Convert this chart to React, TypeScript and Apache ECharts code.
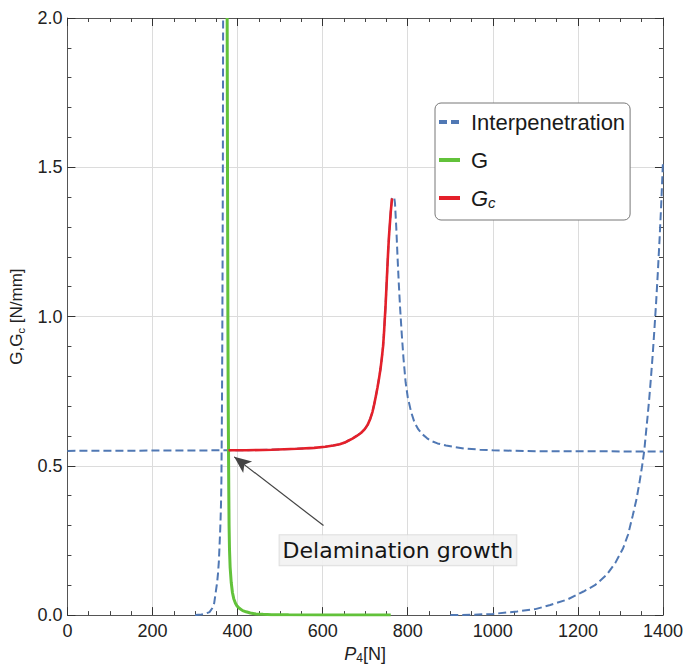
import React, { useEffect, useRef } from 'react';
import * as echarts from 'echarts';

// G_c (critical energy release rate)
const gcX = [378.7, 420, 480, 540, 580, 606, 625, 640, 652, 660, 670, 680, 690, 699, 706, 712, 717, 721, 725, 729, 733, 736, 739, 742, 744, 746, 748, 750, 752, 754, 756, 758, 760, 763];
const gcY = [0.552, 0.552, 0.554, 0.557, 0.56, 0.564, 0.568, 0.572, 0.578, 0.584, 0.591, 0.6, 0.61, 0.623, 0.638, 0.658, 0.68, 0.705, 0.733, 0.763, 0.797, 0.825, 0.86, 0.9, 0.94, 0.99, 1.04, 1.1, 1.16, 1.22, 1.27, 1.31, 1.35, 1.396];
// G
const gX = [375.5, 376.3, 377.2, 378, 378.7, 379.3, 380, 381, 382.5, 385, 388, 391, 395, 399, 404, 412, 420, 430, 443, 460, 480, 520, 600, 760];
const gY = [2.0, 1.5, 1.0, 0.7, 0.55, 0.42, 0.3, 0.22, 0.16, 0.11, 0.075, 0.055, 0.04, 0.03, 0.023, 0.015, 0.011, 0.007, 0.004, 0.0025, 0.0015, 0.0008, 0.0003, 0.0];
// Interpenetration: flat part at ~0.55 left of the G/G_c intersection (the rising flank runs under G_c)
const interpBaseX = [0];
const interpBaseY = [0.55];
// Interpenetration: right flank of the peak and tail back to ~0.55
const interpPeakX = [768, 770, 773, 776, 779, 782, 786, 790, 795, 800, 808, 816, 825, 835, 845, 854, 870, 890, 910, 933, 970, 1000, 1100, 1400];
const interpPeakY = [1.4, 1.38, 1.3, 1.2, 1.11, 1.03, 0.94, 0.86, 0.78, 0.73, 0.68, 0.645, 0.622, 0.605, 0.593, 0.584, 0.575, 0.568, 0.563, 0.558, 0.554, 0.552, 0.549, 0.548];
// Interpenetration: left asymptote near 366 N
const interpLeftX = [300, 315, 325, 334, 340, 345, 349, 352, 354, 356, 357.5, 359, 360, 361, 362, 362.5, 363.3, 364, 364.8, 365.4, 366];
const interpLeftY = [0, 0.002, 0.005, 0.01, 0.022, 0.04, 0.08, 0.11, 0.14, 0.18, 0.23, 0.28, 0.32, 0.37, 0.45, 0.55, 0.7, 0.9, 1.2, 1.5, 2.0];
// Interpenetration: rising branch towards 1400 N
const interpRightX = [900, 950, 1000, 1057, 1100, 1135, 1175, 1213, 1240, 1267, 1288, 1306, 1318, 1329, 1338, 1345, 1351, 1356, 1360, 1364, 1368, 1372, 1376, 1380, 1384, 1388, 1392, 1396, 1400];
const interpRightY = [0, 0.001, 0.004, 0.012, 0.02, 0.034, 0.052, 0.079, 0.1, 0.134, 0.175, 0.223, 0.27, 0.334, 0.39, 0.446, 0.5, 0.551, 0.61, 0.668, 0.73, 0.8, 0.875, 0.96, 1.05, 1.15, 1.26, 1.38, 1.52];

// Annotation anchors (data coordinates)
const arrowTail = [602, 0.3];
const arrowTip = [392, 0.53];
const labelAt = [777, 0.217];
const annotationText = 'Delamination growth';

const legendNames = ['Interpenetration', 'G', 'G_c'];

const zip = (xs: number[], ys: number[]) => xs.map((x, i) => [x, ys[i]]);

const BLUE = '#5078b4';
const GREEN = '#62c23a';
const RED = '#e4202a';
const FONT = 'Liberation Sans, Arial, sans-serif';

export default function App() {
  const ref = useRef<HTMLDivElement>(null);
  useEffect(() => {
    if (!ref.current) return;
    const chart = echarts.init(ref.current, undefined, { renderer: 'svg' });
    const dashed = { color: BLUE, width: 2, type: [8, 4] as number[] };
    const axisCommon = {
      axisLine: { show: true, onZero: false, lineStyle: { color: '#555', width: 1 } },
      axisTick: { show: true, inside: true, length: 8, lineStyle: { color: '#333', width: 1 } },
      minorTick: { show: true, length: 4, lineStyle: { color: '#444', width: 1 } },
    };
    const interpMain = [
      ...zip(interpBaseX, interpBaseY),
      ...zip(gcX, gcY),
      ...zip(interpPeakX, interpPeakY),
    ];
    chart.setOption({
      animation: false,
      backgroundColor: '#fff',
      grid: { left: 67, right: 19, top: 18, bottom: 52 },
      legend: {
        data: legendNames,
        orient: 'vertical',
        left: 435,
        top: 103,
        padding: [8, 5, 10, 2],
        itemGap: 16,
        itemWidth: 21,
        itemHeight: 14,
        borderColor: '#777',
        borderWidth: 1,
        borderRadius: 6,
        backgroundColor: '#fff',
        lineStyle: { width: 4 },
        itemStyle: { opacity: 0, color: 'transparent', borderWidth: 0 },
        formatter: (name: string) => (name === 'G_c' ? '{p|}{i|G}{s|c}' : '{p|}{n|' + name + '}'),
        textStyle: {
          rich: {
            p: { width: 6 },
            n: { fontSize: 22, fontFamily: FONT, color: '#1a1a1a', lineHeight: 24 },
            i: { fontSize: 22, fontFamily: FONT, fontStyle: 'italic', color: '#1a1a1a', lineHeight: 24 },
            s: { fontSize: 15, fontFamily: FONT, fontStyle: 'italic', color: '#1a1a1a', lineHeight: 15, verticalAlign: 'bottom' },
          },
        },
      },
      xAxis: [
        {
          type: 'value', min: 0, max: 1400, interval: 200, position: 'bottom',
          ...axisCommon,
          minorTick: { ...axisCommon.minorTick, splitNumber: 4 },
          splitLine: { show: true, lineStyle: { color: '#dcdcdc', width: 1 } },
          axisLabel: { fontSize: 18, fontFamily: FONT, color: '#222', margin: 7, formatter: (v: number) => String(v) },
          name: '{i|P}{s|4}{n|[N]}',
          nameLocation: 'middle',
          nameGap: 16,
          nameTextStyle: {
            verticalAlign: 'top',
            rich: {
              n: { fontSize: 18, fontFamily: FONT, color: '#222', lineHeight: 20 },
              i: { fontSize: 18, fontFamily: FONT, fontStyle: 'italic', color: '#222', lineHeight: 20 },
              s: { fontSize: 12, fontFamily: FONT, color: '#222', lineHeight: 12, verticalAlign: 'bottom' },
            },
          },
        },
        {
          type: 'value', min: 0, max: 1400, interval: 200, position: 'top',
          ...axisCommon,
          minorTick: { ...axisCommon.minorTick, splitNumber: 4 },
          splitLine: { show: false },
          axisLabel: { show: false },
        },
      ],
      yAxis: [
        {
          type: 'value', min: 0, max: 2, interval: 0.5, position: 'left',
          ...axisCommon,
          minorTick: { ...axisCommon.minorTick, splitNumber: 5 },
          splitLine: { show: true, lineStyle: { color: '#dcdcdc', width: 1 } },
          axisLabel: { fontSize: 18, fontFamily: FONT, color: '#222', margin: 5, formatter: (v: number) => v.toFixed(1) },
          name: '{n|G,G}{s|c}{n| [N/mm]}',
          nameLocation: 'middle',
          nameRotate: 90,
          nameGap: 38,
          nameTextStyle: {
            rich: {
              n: { fontSize: 17, fontFamily: FONT, color: '#222', lineHeight: 20 },
              s: { fontSize: 11, fontFamily: FONT, color: '#222', lineHeight: 11, verticalAlign: 'bottom' },
            },
          },
        },
        {
          type: 'value', min: 0, max: 2, interval: 0.5, position: 'right',
          ...axisCommon,
          minorTick: { ...axisCommon.minorTick, splitNumber: 5 },
          splitLine: { show: false },
          axisLabel: { show: false },
        },
      ],
      series: [
        { name: 'Interpenetration', type: 'line', data: interpMain, symbol: 'none', lineStyle: dashed, itemStyle: { color: BLUE }, z: 2 },
        { name: 'Interpenetration', type: 'line', data: zip(interpLeftX, interpLeftY), symbol: 'none', lineStyle: dashed, itemStyle: { color: BLUE }, z: 2 },
        { name: 'Interpenetration', type: 'line', data: zip(interpRightX, interpRightY), symbol: 'none', lineStyle: dashed, itemStyle: { color: BLUE }, z: 2 },
        { name: 'G', type: 'line', data: zip(gX, gY), symbol: 'none', lineStyle: { color: GREEN, width: 3 }, itemStyle: { color: GREEN }, z: 3 },
        {
          name: 'G_c', type: 'line', data: zip(gcX, gcY), symbol: 'none', lineStyle: { color: RED, width: 2.6 }, itemStyle: { color: RED }, z: 4,
          markLine: {
            silent: true,
            symbol: ['none', 'arrow'],
            symbolSize: [11, 17],
            label: { show: false },
            lineStyle: { color: '#444', width: 1.2, type: 'solid' },
            data: [[{ coord: arrowTail }, { coord: arrowTip }]],
          },
          markPoint: {
            silent: true,
            symbol: 'circle',
            symbolSize: 0,
            data: [{ coord: labelAt, value: annotationText }],
            label: {
              show: true,
              position: 'inside',
              formatter: annotationText,
              fontFamily: 'DejaVu Sans, sans-serif',
              fontSize: 22,
              color: '#151515',
              backgroundColor: 'rgba(242,242,242,0.9)',
              borderColor: 'rgba(215,215,215,0.8)',
              borderWidth: 1,
              padding: [4, 3, 4, 3],
            },
          },
        },
      ],
    });
    return () => chart.dispose();
  }, []);
  return <div ref={ref} style={{ position: 'fixed', left: 0, top: 0, width: 686, height: 669 }} />;
}
